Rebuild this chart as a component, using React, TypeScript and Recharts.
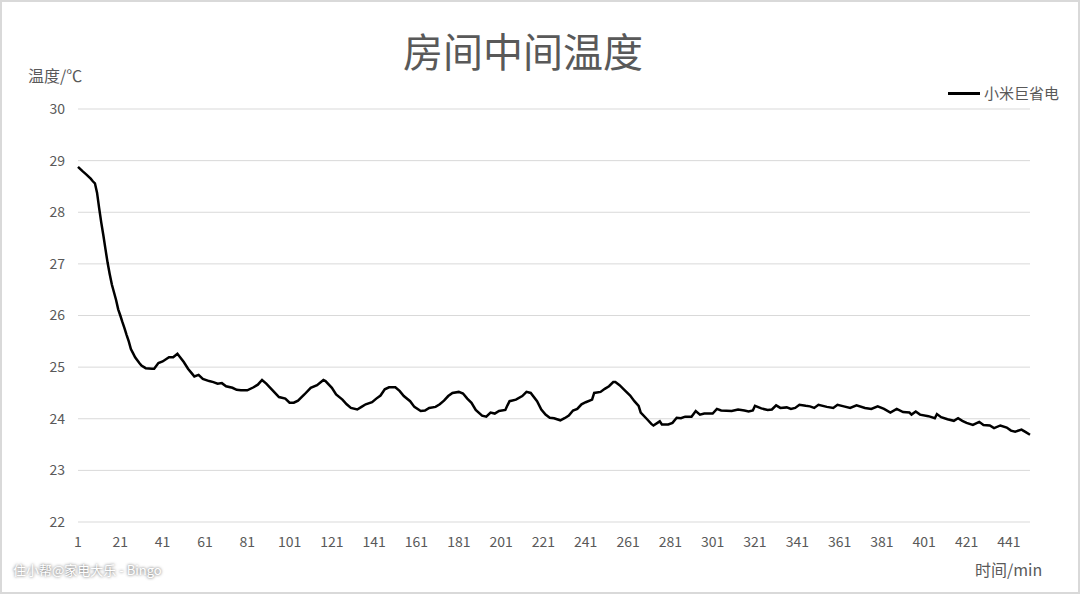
import { LineChart, Line, XAxis, YAxis, CartesianGrid } from "recharts";

// readings taken off the original curve (minute, °C)
const minutes = [
  1, 3, 5, 7, 8, 9, 10, 11, 12, 13, 14, 15, 16, 17, 18, 19, 20, 21, 22, 23,
  24, 25, 26, 27, 28, 30, 31, 33,
  36, 37, 39, 41, 44, 46, 48, 51, 53, 55, 56, 58, 60, 63, 65, 67, 69, 71, 74, 76,
  78, 81, 84, 86, 88, 90, 93, 96, 99, 101, 103, 105, 108, 111, 114, 117, 118, 121, 123, 126,
  128, 130, 133, 135, 137, 140, 142, 144, 146, 148, 151, 153, 155, 158, 160, 163, 165, 167, 170, 172,
  174, 176, 178, 181, 183, 185, 187, 189, 192, 194, 196, 198, 200, 203, 204, 205, 208, 211, 213, 215,
  218, 220, 222, 224, 226, 229, 231, 233, 235, 237, 239, 241, 244, 245, 248, 250, 252, 254, 255, 257,
  259, 262, 264, 266, 267, 270, 272, 273, 276, 277, 280, 282, 284, 286, 288, 291, 293, 295, 297, 301,
  303, 305, 310, 313, 316, 318, 320, 321, 324, 327, 329, 331, 333, 336, 338, 340, 342, 345, 347, 349,
  351, 355, 358, 360, 363, 366, 369, 373, 376, 379, 382, 385, 388, 391, 394, 395, 397, 399, 403, 406,
  407, 409, 412, 415, 417, 419, 421, 424, 427, 429, 432, 434, 437, 440, 442, 444, 447, 449, 451
];

const temps = [
  28.88, 28.8, 28.73, 28.65, 28.6, 28.56, 28.38, 28.08, 27.8, 27.55, 27.28, 27.02, 26.8, 26.6, 26.45, 26.3, 26.12, 26.0, 25.87, 25.75,
  25.62, 25.5, 25.35, 25.27, 25.19, 25.08, 25.03, 24.98,
  24.97, 24.97, 25.08, 25.11, 25.19, 25.19, 25.26, 25.1, 24.97, 24.87, 24.82, 24.85, 24.77, 24.73, 24.71, 24.68, 24.69, 24.63, 24.6, 24.56,
  24.55, 24.55, 24.61, 24.66, 24.75, 24.68, 24.55, 24.42, 24.39, 24.31, 24.31, 24.35, 24.47, 24.6, 24.65, 24.75, 24.73, 24.6, 24.47, 24.37,
  24.28, 24.21, 24.18, 24.23, 24.28, 24.32, 24.39, 24.45, 24.57, 24.61, 24.61, 24.54, 24.44, 24.34, 24.23, 24.15, 24.16, 24.21, 24.23, 24.28,
  24.35, 24.44, 24.5, 24.52, 24.49, 24.39, 24.31, 24.17, 24.06, 24.04, 24.12, 24.1, 24.15, 24.17, 24.26, 24.34, 24.37, 24.44, 24.52, 24.5,
  24.34, 24.18, 24.08, 24.02, 24.01, 23.97, 24.01, 24.06, 24.16, 24.19, 24.28, 24.32, 24.37, 24.5, 24.52, 24.58, 24.63, 24.71, 24.71, 24.65,
  24.57, 24.45, 24.34, 24.25, 24.12, 23.99, 23.9, 23.87, 23.95, 23.89, 23.89, 23.92, 24.02, 24.01, 24.04, 24.04, 24.15, 24.08, 24.1, 24.1,
  24.19, 24.16, 24.15, 24.18, 24.16, 24.14, 24.16, 24.25, 24.2, 24.17, 24.18, 24.26, 24.21, 24.22, 24.19, 24.21, 24.27, 24.25, 24.24, 24.21,
  24.27, 24.23, 24.21, 24.27, 24.24, 24.21, 24.26, 24.21, 24.19, 24.24, 24.19, 24.12, 24.19, 24.13, 24.12, 24.08, 24.14, 24.08, 24.05, 24.01,
  24.09, 24.03, 23.99, 23.96, 24.01, 23.96, 23.92, 23.88, 23.94, 23.88, 23.87, 23.82, 23.87, 23.83, 23.77, 23.75, 23.79, 23.74, 23.69
];

const xTicks = [1, 21, 41, 61, 81, 101, 121, 141, 161, 181, 201, 221, 241, 261, 281, 301, 321, 341, 361, 381, 401, 421, 441];
const yTicks = [22, 23, 24, 25, 26, 27, 28, 29, 30];
const seriesName = "小米巨省电";

const data = minutes.map((minute, i) => ({ minute, temp: temps[i] }));

const font = '"Noto Sans CJK SC", "Noto Sans", sans-serif';
const grey = "#595959";

export default function App() {
  return (
    <div style={{ position: "absolute", left: 0, top: 0, width: 1080, height: 594, background: "#fff", fontFamily: font, color: grey }}>
      <LineChart
        width={1080}
        height={594}
        data={data}
        margin={{ top: 109, right: 50, bottom: 42, left: 18 }}
      >
        <CartesianGrid vertical={false} stroke="#d9d9d9" strokeWidth={1} />
        <XAxis
          dataKey="minute"
          type="number"
          domain={[1, 451]}
          ticks={xTicks}
          interval={0}
          height={30}
          axisLine={false}
          tickLine={false}
          tickSize={0}
          tickMargin={15}
          tick={{ fill: grey, fontSize: 14, fontFamily: font }}
        />
        <YAxis
          domain={[22, 30]}
          ticks={yTicks}
          width={60}
          axisLine={false}
          tickLine={false}
          tickSize={0}
          tickMargin={13}
          tick={{ fill: grey, fontSize: 14, fontFamily: font }}
        />
        <Line
          dataKey="temp"
          name={seriesName}
          type="linear"
          stroke="#000"
          strokeWidth={2.5}
          dot={false}
          isAnimationActive={false}
        />
      </LineChart>

      <div style={{ position: "absolute", left: 0, top: 28, width: 1046, textAlign: "center", fontSize: 40, lineHeight: "44px" }}>
        房间中间温度
      </div>
      <div style={{ position: "absolute", left: 28, top: 65, fontSize: 16, lineHeight: "20px" }}>温度/℃</div>
      <div style={{ position: "absolute", left: 975, top: 559, fontSize: 16, lineHeight: "20px" }}>时间/min</div>

      <div style={{ position: "absolute", left: 948, top: 83, display: "flex", alignItems: "center", fontSize: 15, lineHeight: "20px" }}>
        <span style={{ display: "inline-block", width: 32, height: 3, background: "#000", marginRight: 4 }} />
        {seriesName}
      </div>

      <div style={{ position: "absolute", left: 13, top: 561, fontSize: 13, lineHeight: "18px", color: "#fff", textShadow: "0 0 3px rgba(0,0,0,0.7)" }}>
        住小帮@家电大乐 - Bingo
      </div>

      <div style={{ position: "absolute", inset: 0, border: "2px solid #d9d9d9", pointerEvents: "none" }} />
    </div>
  );
}
